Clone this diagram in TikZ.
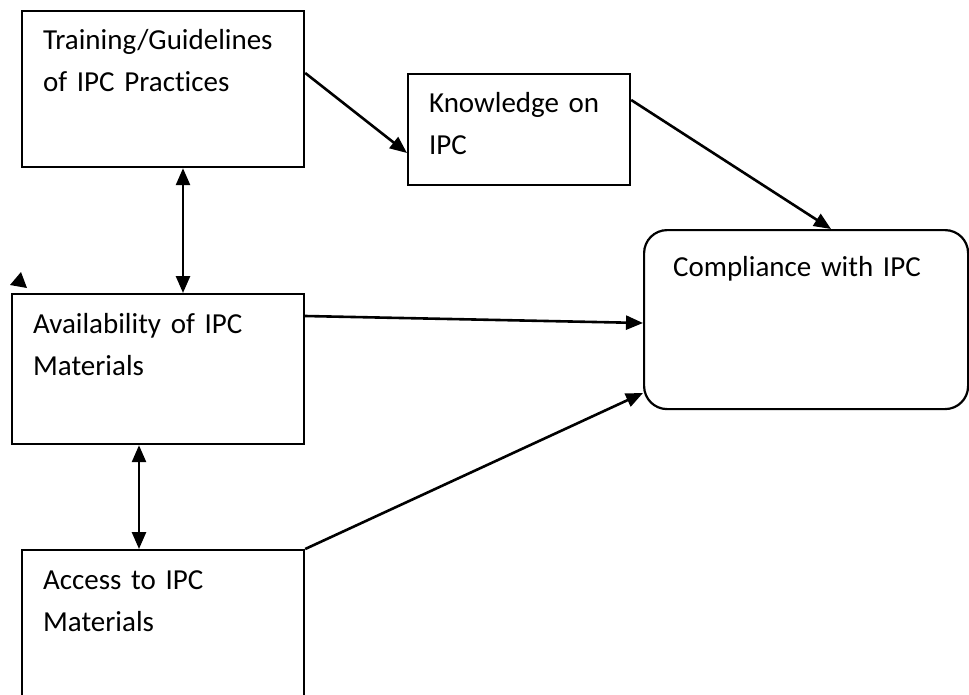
\documentclass[tikz,border=0pt]{standalone}
\usepackage{fontspec}
\setmainfont{Carlito}[Ligatures=NoCommon]
\usetikzlibrary{arrows.meta}
\newcommand\boxfont{\fontsize{29}{42}\selectfont\spaceskip=4.5pt\relax}

\begin{document}
\begin{tikzpicture}[x=1pt, y=-1pt, line width=2.2pt, >={Triangle[length=17pt,width=14pt]},
  main/.style = {draw, rectangle, anchor=north west, align=left, inner xsep=21pt, inner ysep=0pt,
    font=\boxfont}]
\useasboundingbox (0,0) rectangle (969,694);
\clip (0,0) rectangle (969,694);
\node[main, text width=240pt, text height=38pt, text depth=118pt] (1) at (21,10) {Training/Guidelines\\of IPC Practices};
\node[main, text width=180pt, text height=38pt, text depth=73pt] (2) at (407,73) {Knowledge on\\IPC};
\node[main, text width=250pt, text height=39pt, text depth=111pt] (3) at (11,293) {Availability of IPC\\Materials};
\node[main, text width=240pt, text height=39pt, text depth=171pt] (4) at (21,549) {Access to IPC\\Materials};
\node[main, rounded corners=23pt, inner xsep=29pt, text width=266pt, text height=46pt, text depth=133pt] (5) at (643,229) {Compliance with IPC};
\draw[->, line width=2.6pt] ([yshift=-63pt]1.north east) -- ([yshift=-80pt]2.north west);
\draw[->, line width=2.6pt] ([yshift=-27pt]2.north east) -- ([xshift=188pt]5.north west);
\draw[<->, line width=2.6pt] ([xshift=162pt]1.south west) -- ([xshift=162pt]1.south west |- 3.north);
\draw[->, line width=2.6pt] ([yshift=-23pt]3.north east) -- ([yshift=-94pt]5.north west);
\draw[<->, line width=2.6pt] ([xshift=128pt]3.south west) -- ([xshift=128pt]3.south west |- 4.north);
\draw[->, line width=2.6pt] (4.north east) -- ([yshift=-164pt]5.north west);
\fill (10,285) -- (27,288) -- (21,272) -- cycle;
\end{tikzpicture}
\end{document}
